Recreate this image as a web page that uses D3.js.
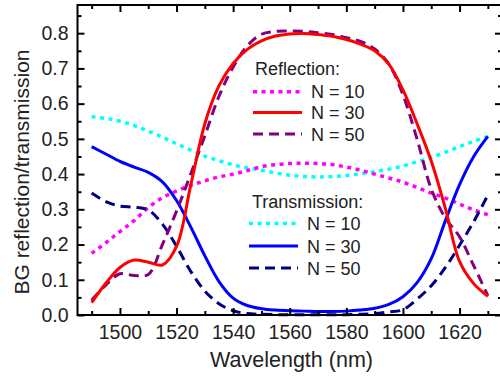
<!DOCTYPE html>
<html>
<head>
<meta charset="utf-8">
<script src="https://cdn.jsdelivr.net/npm/d3@7"></script>
<style>
  body { margin: 0; background: white; }
  svg { display: block; font-family: "Liberation Sans", Arial, sans-serif; }
  .tick text { font-size: 19.5px; fill: #222; }
</style>
</head>
<body>
<script>
var width = 500, height = 376;

// wavelength samples (nm)
var wavelengths = d3.range(1490, 1631, 5);

// reflection
var reflN10 = [0.175,0.205,0.237,0.268,0.305,0.333,0.352,0.368,0.381,0.392,0.400,0.410,0.421,0.427,0.430,0.431,0.430,0.427,0.420,0.411,0.400,0.389,0.377,0.362,0.346,0.332,0.315,0.298,0.285];
var reflN30 = [0.035,0.090,0.135,0.156,0.150,0.142,0.195,0.368,0.543,0.651,0.714,0.754,0.778,0.792,0.798,0.799,0.796,0.791,0.782,0.769,0.750,0.712,0.639,0.543,0.437,0.302,0.152,0.089,0.053];
var reflN50 = [0.042,0.085,0.117,0.112,0.115,0.200,0.295,0.400,0.509,0.621,0.704,0.764,0.797,0.805,0.806,0.805,0.801,0.796,0.787,0.777,0.755,0.713,0.625,0.499,0.358,0.275,0.222,0.140,0.055];

// transmission
var tranN10 = [0.563,0.558,0.550,0.538,0.522,0.505,0.486,0.468,0.451,0.438,0.426,0.418,0.411,0.403,0.397,0.393,0.392,0.393,0.396,0.401,0.407,0.414,0.423,0.435,0.447,0.462,0.478,0.493,0.507];
var tranN30 = [0.478,0.457,0.436,0.420,0.405,0.378,0.325,0.250,0.168,0.095,0.048,0.027,0.018,0.014,0.012,0.011,0.010,0.010,0.011,0.014,0.019,0.030,0.052,0.092,0.160,0.268,0.370,0.450,0.507];
var tranN50 = [0.346,0.322,0.309,0.306,0.298,0.258,0.195,0.124,0.068,0.032,0.012,0.004,0.002,0.001,0.001,0.001,0.001,0.001,0.001,0.002,0.004,0.009,0.015,0.045,0.083,0.135,0.198,0.265,0.340];

var xMajor = d3.range(1500, 1621, 20);
var xMinor = d3.range(1490, 1631, 20);
var yMajor = d3.range(0, 0.81, 0.1).map(d => +d.toFixed(1));
var yMinor = d3.range(0.05, 0.86, 0.1).map(d => +d.toFixed(2));

var series = [
  {name: "N = 10", values: reflN10, color: "#ff00ff", dash: "4,4.5", width: 3.5, group: 0},
  {name: "N = 30", values: reflN30, color: "#ff0000", dash: null, width: 3, group: 0},
  {name: "N = 50", values: reflN50, color: "#800080", dash: "10,6", width: 3, group: 0},
  {name: "N = 10", values: tranN10, color: "#00ffff", dash: "4,4.5", width: 3.5, group: 1},
  {name: "N = 30", values: tranN30, color: "#0000ff", dash: null, width: 3, group: 1},
  {name: "N = 50", values: tranN50, color: "#000080", dash: "10,6", width: 3, group: 1}
];

var plotLeft = 77.5, plotRight = 502, plotTop = 5, plotBottom = 315;

var x = d3.scaleLinear().domain([1485, 1635]).range([plotLeft, plotRight]);
var y = d3.scaleLinear().domain([0, 0.88]).range([plotBottom, plotTop]);

var svg = d3.select("body").append("svg")
  .attr("width", width)
  .attr("height", height);

// curves
var line = d3.line()
  .x((d, i) => x(wavelengths[i]))
  .y(d => y(d))
  .curve(d3.curveCatmullRom.alpha(0.5));

// draw order: transmission under reflection roughly like the original
var order = [3, 0, 5, 4, 2, 1];
order.forEach(function(k) {
  var s = series[k];
  svg.append("path")
    .attr("d", line(s.values))
    .attr("fill", "none")
    .attr("stroke", s.color)
    .attr("stroke-width", s.width)
    .attr("stroke-dasharray", s.dash);
});

// axes, ticks pointing inward
function styleAxis(g) {
  g.select(".domain").remove();
  g.selectAll(".tick line").attr("stroke", "#000").attr("stroke-width", 2);
}

svg.append("g").attr("transform", "translate(0," + plotBottom + ")")
  .call(d3.axisBottom(x).tickValues(xMajor).tickSize(-7).tickPadding(10).tickFormat(d3.format("d")))
  .call(styleAxis);
svg.append("g").attr("transform", "translate(0," + plotBottom + ")")
  .call(d3.axisBottom(x).tickValues(xMinor).tickSize(-4).tickFormat(""))
  .call(styleAxis);
svg.append("g").attr("transform", "translate(0," + plotTop + ")")
  .call(d3.axisTop(x).tickValues(xMajor).tickSize(-7).tickFormat(""))
  .call(styleAxis);
svg.append("g").attr("transform", "translate(0," + plotTop + ")")
  .call(d3.axisTop(x).tickValues(xMinor).tickSize(-4).tickFormat(""))
  .call(styleAxis);

svg.append("g").attr("transform", "translate(" + plotLeft + ",0)")
  .call(d3.axisLeft(y).tickValues(yMajor).tickSize(-7).tickPadding(9).tickFormat(d3.format(".1f")))
  .call(styleAxis);
svg.append("g").attr("transform", "translate(" + plotLeft + ",0)")
  .call(d3.axisLeft(y).tickValues(yMinor).tickSize(-4).tickFormat(""))
  .call(styleAxis);
svg.append("g").attr("transform", "translate(" + plotRight + ",0)")
  .call(d3.axisRight(y).tickValues(yMajor).tickSize(-7).tickFormat(""))
  .call(styleAxis);
svg.append("g").attr("transform", "translate(" + plotRight + ",0)")
  .call(d3.axisRight(y).tickValues(yMinor).tickSize(-4).tickFormat(""))
  .call(styleAxis);

// frame
svg.append("rect")
  .attr("x", plotLeft).attr("y", plotTop)
  .attr("width", plotRight - plotLeft).attr("height", plotBottom - plotTop)
  .attr("fill", "none").attr("stroke", "#000").attr("stroke-width", 2);

// axis titles
svg.append("text")
  .attr("x", 291.5).attr("y", 367)
  .attr("text-anchor", "middle")
  .attr("font-size", 21.5).attr("fill", "#222")
  .text("Wavelength (nm)");

svg.append("text")
  .attr("transform", "translate(29,172) rotate(-90)")
  .attr("text-anchor", "middle")
  .attr("font-size", 21).attr("fill", "#222")
  .text("BG reflection/transmission");

// legends
var legends = [
  {title: "Reflection:", tx: 255, ty: 75, lx: 253, ly: [91.7, 112.6, 134], textX: 311},
  {title: "Transmission:", tx: 252, ty: 208, lx: 249, ly: [223.5, 246, 268], textX: 307}
];

legends.forEach(function(lg, gi) {
  var g = svg.append("g");
  g.append("text")
    .attr("x", lg.tx).attr("y", lg.ty)
    .attr("font-size", 18).attr("fill", "#222")
    .text(lg.title);
  series.filter(s => s.group === gi).forEach(function(s, i) {
    g.append("line")
      .attr("x1", lg.lx).attr("x2", lg.lx + 49)
      .attr("y1", lg.ly[i]).attr("y2", lg.ly[i])
      .attr("stroke", s.color)
      .attr("stroke-width", s.width)
      .attr("stroke-dasharray", s.dash);
    g.append("text")
      .attr("x", lg.textX).attr("y", lg.ly[i] + 6.5)
      .attr("font-size", 18).attr("fill", "#222")
      .text(s.name);
  });
});
</script>
</body>
</html>
